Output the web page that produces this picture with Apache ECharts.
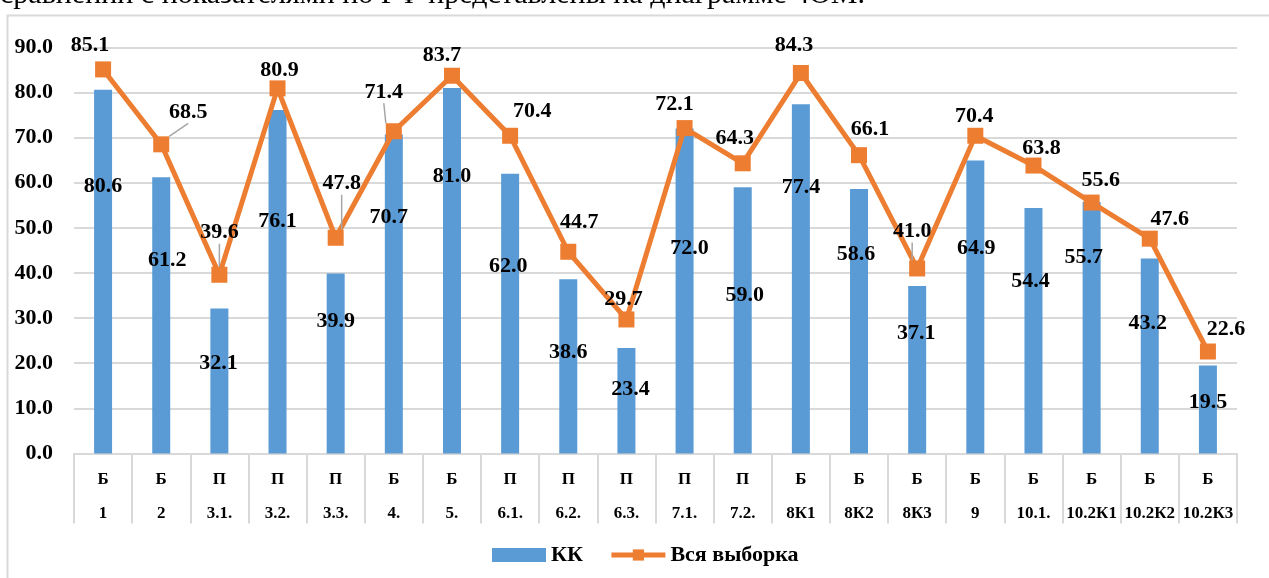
<!DOCTYPE html>
<html>
<head>
<meta charset="utf-8">
<style>
html,body{margin:0;padding:0;background:#fff;}
#chart{width:1269px;height:578px;}
</style>
<script src="https://cdn.jsdelivr.net/npm/echarts@6/dist/echarts.min.js"></script>
</head>
<body>
<div id="chart"></div>
<script>
// ---- data ----
const groups = ['Б','Б','П','П','П','Б','Б','П','П','П','П','П','Б','Б','Б','Б','Б','Б','Б','Б'];
const codes = ['1','2','3.1.','3.2.','3.3.','4.','5.','6.1.','6.2.','6.3.','7.1.','7.2.','8К1','8К2','8К3','9','10.1.','10.2К1','10.2К2','10.2К3'];
const kkValues = [80.6,61.2,32.1,76.1,39.9,70.7,81.0,62.0,38.6,23.4,72.0,59.0,77.4,58.6,37.1,64.9,54.4,55.7,43.2,19.5];
const allValues = [85.1,68.5,39.6,80.9,47.8,71.4,83.7,70.4,44.7,29.7,72.1,64.3,84.3,66.1,41.0,70.4,63.8,55.6,47.6,22.6];
const seriesNames = ['КК','Вся выборка'];
const headerText = 'сравнении с показателями по РФ представлены на диаграмме 4ОМ.';

// ---- label placement (pixel offsets of the data labels) ----
const kkLabelOffsets = [[0,-85],[6,-55],[-1,-18],[0,-60],[0,-42],[-5,-77],[0,-94],[-2,-47],[0,-14],[4,-11],[5,-43],[2,-25],[0,-92],[-3,-67],[-1,-36],[1,-59],[-3,-49],[-8,-70],[-2,-33],[0,-7]];
const allLabelOffsets = [[-13,-24],[27,-32],[0,-42],[2,-18],[6,-54],[-10,-39],[-10,-20],[22,-24],[11,-29],[-3,-20],[-10,-24],[-8,-25],[-7,-28],[11,-26],[-5,-37],[-1,-19],[8,-17],[9,-22],[20,-19],[18,-22]];
const leaderIdx = [1,2,4,5,14];

const FONT = '"Liberation Serif","Times New Roman",serif';
const BLUE = '#5b9bd5', ORANGE = '#ed7d31';

const categories = groups.map((g,i)=> g + '\n' + codes[i]);

const chart = echarts.init(document.getElementById('chart'), null, {renderer:'canvas'});
chart.setOption({
  backgroundColor:'#fff',
  animation:false,
  textStyle:{fontFamily:FONT},
  graphic:[
    {type:'rect', left:5, top:13, shape:{width:1300, height:600}, style:{fill:'none', stroke:'#d9d9d9', lineWidth:2}, z:-1},
    {type:'text', x:0, y:10, style:{text:headerText, font:'30px '+FONT, fill:'#000', textVerticalAlign:'bottom'}}
  ],
  grid:{left:74, right:32, top:47.3, bottom:124.5, containLabel:false},
  legend:{
    left:487, top:539, itemWidth:54, itemHeight:14, itemGap:26,
    data:[
      {name:seriesNames[0], icon:'rect'},
      {name:seriesNames[1], lineStyle:{width:5, color:ORANGE}, itemStyle:{color:ORANGE}}
    ],
    textStyle:{fontFamily:FONT, fontSize:22, fontWeight:'bold', color:'#000'}
  },
  xAxis:{
    type:'category', data:categories,
    axisLine:{lineStyle:{color:'#d9d9d9', width:2}},
    axisTick:{show:true, interval:0, length:70, lineStyle:{color:'#d9d9d9', width:2}},
    axisLabel:{interval:0, margin:9, fontFamily:FONT, fontSize:17, fontWeight:'bold', color:'#000', lineHeight:34}
  },
  yAxis:{
    type:'value', min:0, max:90, interval:10,
    axisLine:{show:false}, axisTick:{show:false},
    splitLine:{lineStyle:{color:'#d9d9d9', width:2}},
    axisLabel:{margin:21, fontFamily:FONT, fontSize:22, fontWeight:'bold', color:'#000', formatter:v=>v.toFixed(1)}
  },
  series:[
    {
      name:seriesNames[0], type:'bar', barWidth:18,
      itemStyle:{color:BLUE},
      data:kkValues.map((v,i)=>({value:v, label:{offset:kkLabelOffsets[i]}})),
      label:{show:true, position:'inside', align:'center', verticalAlign:'middle', fontFamily:FONT, fontSize:22, fontWeight:'bold', color:'#000', formatter:p=>p.value.toFixed(1)},
      z:2
    },
    {
      name:seriesNames[1], type:'line', symbol:'rect', symbolSize:16,
      lineStyle:{color:ORANGE, width:5},
      itemStyle:{color:ORANGE},
      data:allValues.map((v,i)=>({value:v, labelLine:{show:leaderIdx.indexOf(i)>=0}})),
      label:{show:true, position:'inside', align:'center', verticalAlign:'middle', fontFamily:FONT, fontSize:22, fontWeight:'bold', color:'#000', formatter:p=>p.value.toFixed(1)},
      labelLine:{show:false, lineStyle:{color:'#a6a6a6', width:1.5}},
      labelLayout:function(p){ const o = allLabelOffsets[p.dataIndex]; return {dx:o[0], dy:o[1]}; },
      z:3
    }
  ]
});
</script>
</body>
</html>
